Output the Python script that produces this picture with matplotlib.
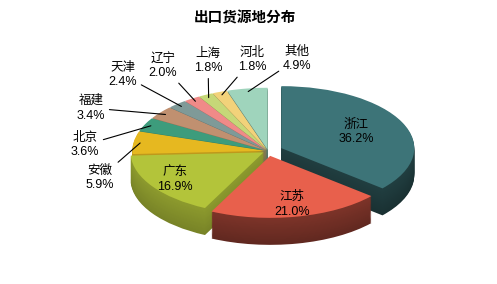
import matplotlib
matplotlib.use("Agg")
import matplotlib.pyplot as plt
import matplotlib.colors as mcolors
import numpy as np

plt.rcParams["font.family"] = ["Liberation Sans", "Noto Sans CJK SC", "DejaVu Sans"]

# data
provinces = ["浙江", "江苏", "广东", "安徽", "北京", "福建", "天津", "辽宁", "上海", "河北", "其他"]
shares = [36.2, 21.0, 16.9, 5.9, 3.6, 3.4, 2.4, 2.0, 1.8, 1.8, 4.9]
colors = ["#3d7478", "#e8604c", "#b3c43a", "#e6b820", "#3d9c7c", "#c09070",
          "#7f9a98", "#f08a88", "#c6d878", "#f2d27a", "#9fd4bc"]
explode = [0.11, 0.08, 0.04, 0.02, 0.02, 0.02, 0.02, 0.02, 0.02, 0.02, 0.02]

# layout (pixels from top-left)
W, H = 497, 284
cx, cy = 268, 151
rx, ry = 133, 62
depth = 27
inner_r = {"浙江": 0.62, "江苏": 0.8, "广东": 0.8}
outer_pos = {"安徽": (100, 178), "北京": (85, 145), "福建": (91, 108),
             "天津": (123, 75), "辽宁": (163, 66), "上海": (208, 61),
             "河北": (252, 60), "其他": (297, 59)}

total = sum(shares)
mids = []
cum = 0
for v in shares:
    mids.append(np.deg2rad(90 - 360 * (cum + v / 2) / total))
    cum += v

fig = plt.figure(figsize=(W / 100, H / 100), dpi=100)
ax = fig.add_axes([0, 0, 1, 1])

# side walls: stack of darker pies shifted down, lit from the left
n_layers = 30
dz = depth / ry
for k in range(n_layers + 1):
    z = -dz + dz * k / n_layers
    if k < n_layers:
        cols = []
        for c, m in zip(colors, mids):
            f = 0.42 + 0.3 * max(0, -np.cos(m)) + 0.12 * k / n_layers
            cols.append(tuple(np.clip(np.array(mcolors.to_rgb(c)) * f, 0, 1)))
    else:
        cols = colors
    ax.pie(shares, explode=explode, colors=cols, startangle=90, counterclock=False,
           center=(0, z), radius=1, wedgeprops=dict(linewidth=0))

ax.set_xlim(-cx / rx, (W - cx) / rx)
ax.set_ylim(-(H - cy) / ry, cy / ry)
ax.set_aspect("auto")
ax.axis("off")

for name, v, e, mid in zip(provinces, shares, explode, mids):
    lab = "%s\n%.1f%%" % (name, v)
    if name in inner_r:
        r = inner_r[name] + e
        ax.text(r * np.cos(mid), r * np.sin(mid), lab, ha="center", va="center",
                fontsize=9, linespacing=1.3, color="black")
    else:
        r = 0.95 + e
        tx, ty = outer_pos[name]
        ax.annotate(lab, xy=(r * np.cos(mid), r * np.sin(mid)),
                    xytext=(tx / W, 1 - ty / H), textcoords="figure fraction",
                    ha="center", va="center", fontsize=9, linespacing=1.3,
                    arrowprops=dict(arrowstyle="-", color="black", lw=0.8,
                                    shrinkA=1, shrinkB=0))

fig.text(245 / W, 1 - 18 / H, "出口货源地分布", ha="center", va="center",
         fontsize=10.5, fontweight="bold")

fig.savefig("out.png", dpi=100)
